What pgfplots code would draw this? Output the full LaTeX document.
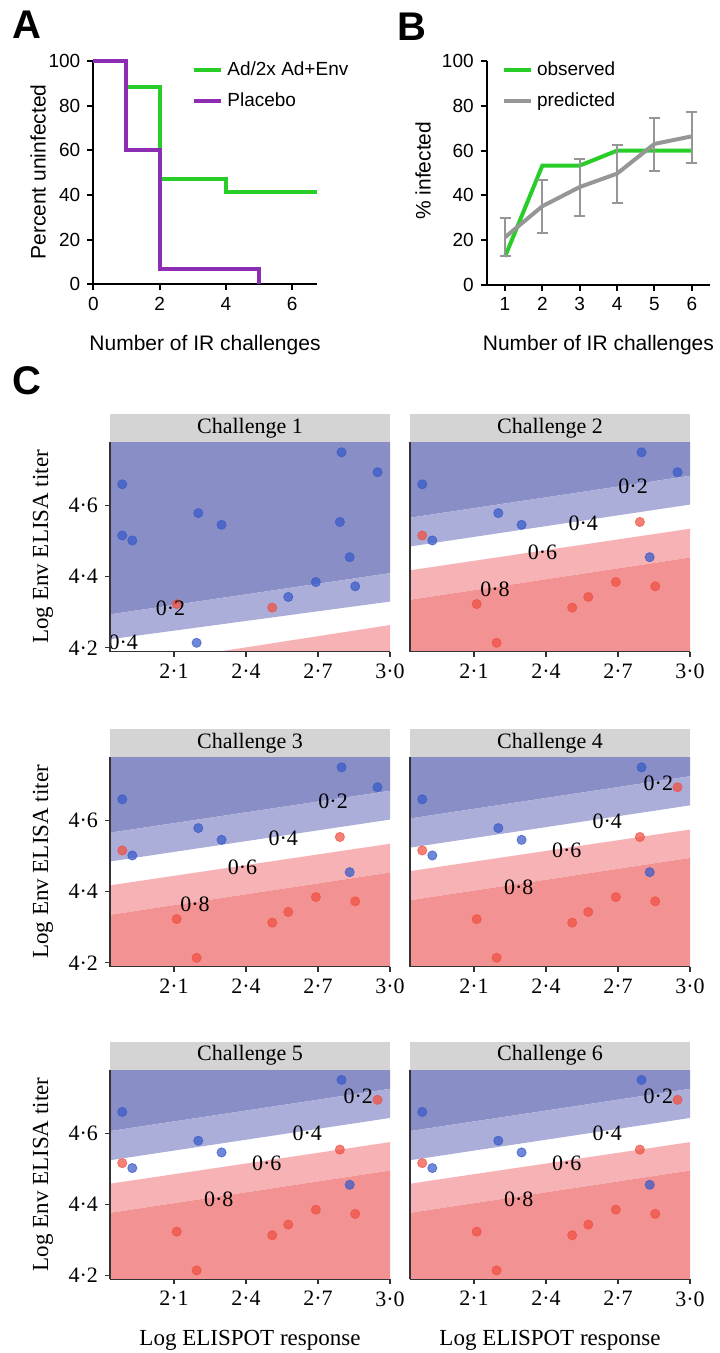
\documentclass[border=0pt]{standalone}
\usepackage{fontspec}
\setmainfont{Liberation Sans}
\newfontfamily\serifC{Liberation Serif}
\usepackage{pgfplots}
\pgfplotsset{compat=1.18}
\usepackage{pgfplotstable}

\definecolor{kmgreen}{RGB}{40,205,40}
\definecolor{kmpurple}{RGB}{140,45,180}
\definecolor{predgray}{RGB}{150,150,150}
\definecolor{bandDB}{RGB}{137,142,198}
\definecolor{bandLB}{RGB}{172,174,218}
\definecolor{bandLR}{RGB}{246,178,181}
\definecolor{bandDR}{RGB}{242,146,147}
\definecolor{stripgray}{RGB}{212,212,212}
\definecolor{dotblue}{RGB}{55,90,200}
\definecolor{dotred}{RGB}{240,80,65}

% points of panel C; g1 = challenge 1, g2 = challenges 2-3, g3 = challenges 4-6
\pgfplotstableread{
x y g1 g2 g3
1.884 4.660 b b b
2.798 4.750 b b b
2.948 4.694 b b r
2.201 4.579 b b b
2.298 4.546 b b b
1.884 4.516 b r r
1.926 4.502 b b b
2.791 4.554 b r r
2.832 4.455 b b b
2.111 4.323 r r r
2.194 4.214 b r r
2.509 4.313 r r r
2.576 4.343 b r r
2.691 4.385 b r r
2.855 4.373 b r r
}\points

% contour bands: boundary values at x=1.833 and x=3.0
\newcommand{\bands}[8]{%
  \addplot[fill=bandDB, draw=none] coordinates {(1.833,#1) (3,#2) (3,5) (1.833,5)};
  \addplot[fill=bandLB, draw=none] coordinates {(1.833,#3) (3,#4) (3,#2) (1.833,#1)};
  \addplot[fill=bandLR, draw=none] coordinates {(1.833,#7) (3,#8) (3,#6) (1.833,#5)};
  \addplot[fill=bandDR, draw=none] coordinates {(1.833,4) (3,4) (3,#8) (1.833,#7)};
}
% facet strip on top of a panel
\newcommand{\strip}[1]{%
  \fill[stripgray] (rel axis cs:0,1) rectangle ([yshift=14pt]rel axis cs:1,1);
  \node[font=\serifC\fontsize{11}{11}\selectfont] at ([yshift=7pt]rel axis cs:0.5,1) {#1};
}
% y title of the left column
\newcommand{\ytitle}{%
  \node[rotate=90, font=\serifC\fontsize{11.5}{11.5}\selectfont]
    at ([xshift=-33.5pt]rel axis cs:0,0.5) {Log Env ELISA titer};
}

\tikzset{lab/.style={font=\serifC\fontsize{11}{11}\selectfont, inner sep=0pt}}

\pgfplotsset{
  abpanel/.style={
    scale only axis, width=111.7pt, height=111.65pt,
    axis x line*=bottom, axis y line*=left,
    axis line style={black, line width=1pt},
    tick style={black, line width=1pt}, tick align=outside,
    major tick length=3pt,
    ticklabel style={font=\fontsize{9.5}{9.5}\selectfont},
    /pgf/number format/assume math mode=true,
    label style={font=\fontsize{10.5}{10.5}\selectfont},
    ymin=0, ymax=100, ytick={0,20,...,100},
    legend cell align=left,
    legend image code/.code={\draw[##1] (0pt,0pt) -- (13.5pt,0pt);},
    clip=false,
  },
  facet/.style={
    scale only axis, width=140pt, height=104.85pt,
    xmin=1.833, xmax=3.0, ymin=4.189, ymax=4.779,
    axis x line*=bottom, axis y line*=left, axis on top,
    clip mode=individual,
    axis line style={black!80, line width=0.6pt},
    tick style={black!80, line width=0.6pt}, tick align=outside,
    major tick length=2.5pt,
    xtick={2.1,2.4,2.7,3.0}, xticklabels={2·1,2·4,2·7,3·0},
    ytick={4.2,4.4,4.6}, yticklabels={4·2,4·4,4·6},
    ticklabel style={font=\serifC\fontsize{11}{11}\selectfont},
    label style={font=\serifC\fontsize{11.5}{11.5}\selectfont},
  },
  rightfacet/.style={ytick=\empty},
  dots/.style={scatter, only marks, scatter src=explicit symbolic,
    scatter/classes={
      b={mark=*, mark size=2.3pt, fill=dotblue, draw=dotblue, opacity=0.72},
      r={mark=*, mark size=2.3pt, fill=dotred, draw=dotred, opacity=0.72}}},
}

\begin{document}
\begin{tikzpicture}
\path[use as bounding box] (0,0) rectangle (359.5pt,-676.5pt);

\node[font=\bfseries\fontsize{20}{20}\selectfont] at (13.5pt,-12.5pt) {A};
\node[font=\bfseries\fontsize{20}{20}\selectfont] at (206pt,-13.5pt) {B};
\node[font=\bfseries\fontsize{20}{20}\selectfont] at (13.5pt,-190.5pt) {C};

% Panel A
\begin{axis}[abpanel, at={(46.65pt,-142.15pt)}, anchor=south west,
  xmin=0, xmax=6.74, xtick={0,2,4,6},
  xlabel={Number of IR challenges}, ylabel={Percent uninfected},
  xlabel style={at={(rel axis cs:0.5,-0.272)}, anchor=center},
  ylabel style={at={(rel axis cs:-0.2475,0.503)}, anchor=center},
  legend style={at={(rel axis cs:0.415,1.035)}, anchor=north west, draw=none, fill=none,
    font=\fontsize{9.5}{9.5}\selectfont, row sep=3pt}]
\addplot[kmgreen, line width=2pt, const plot] coordinates {(0,100) (1,88.2) (2,47.1) (4,41.2) (6.74,41.2)};
\addlegendentry{Ad/2x Ad+Env}
\addplot[kmpurple, line width=2pt, const plot] coordinates {(0,100) (1,60) (2,6.7) (5,6.7) (5,0)};
\addlegendentry{Placebo}
\end{axis}

% Panel B
\begin{axis}[abpanel, at={(243.35pt,-142.3pt)}, anchor=south west,
  xmin=0.51, xmax=6.49, xtick={1,...,6},
  xlabel={Number of IR challenges}, ylabel={\% infected},
  xlabel style={at={(rel axis cs:0.5,-0.272)}, anchor=center},
  ylabel style={at={(rel axis cs:-0.285,0.51)}, anchor=center},
  legend style={at={(rel axis cs:0.04,1.035)}, anchor=north west, draw=none, fill=none,
    font=\fontsize{9.5}{9.5}\selectfont, row sep=3pt}]
\addplot[kmgreen, line width=2pt] coordinates {(1,12.5) (2,53.3) (3,53.3) (4,60) (5,60) (6,60)};
\addlegendentry{observed}
\addplot[predgray, line width=2pt,
  error bars/.cd, y dir=both, y explicit,
  error bar style={line width=1pt, predgray},
  error mark options={rotate=90, mark size=2.75pt, line width=1pt, predgray}]
  coordinates {
  (1,21.2) += (0,8.7) -= (0,8.5)
  (2,35.1) += (0,11.9) -= (0,12.0)
  (3,43.7) += (0,12.7) -= (0,13.1)
  (4,49.7) += (0,12.7) -= (0,13.1)
  (5,63.0) += (0,11.8) -= (0,12.3)
  (6,66.4) += (0,10.9) -= (0,11.8)
  };
\addlegendentry{predicted}
\end{axis}

% Panel C, row 1
\begin{axis}[facet, at={(55pt,-325.85pt)}, anchor=south west]
\bands{4.294}{4.410}{4.224}{4.330}{4.142}{4.264}{4.060}{4.180}
\addplot[dots] table[x=x, y=y, meta=g1] {\points};
\node[lab] at (axis cs:2.085,4.3105) {0·2};
\node[lab] at (axis cs:1.888,4.2165) {0·4};
\strip{Challenge 1}
\ytitle
\end{axis}

\begin{axis}[facet, rightfacet, at={(205pt,-325.85pt)}, anchor=south west]
\bands{4.566}{4.684}{4.485}{4.603}{4.418}{4.535}{4.335}{4.454}
\addplot[dots] table[x=x, y=y, meta=g2] {\points};
\node[lab] at (axis cs:2.763,4.655) {0·2};
\node[lab] at (axis cs:2.555,4.550) {0·4};
\node[lab] at (axis cs:2.385,4.469) {0·6};
\node[lab] at (axis cs:2.187,4.365) {0·8};
\strip{Challenge 2}
\end{axis}

% row 2
\begin{axis}[facet, at={(55pt,-483.35pt)}, anchor=south west]
\bands{4.566}{4.684}{4.485}{4.603}{4.418}{4.535}{4.335}{4.454}
\addplot[dots] table[x=x, y=y, meta=g2] {\points};
\node[lab] at (axis cs:2.763,4.655) {0·2};
\node[lab] at (axis cs:2.555,4.550) {0·4};
\node[lab] at (axis cs:2.385,4.469) {0·6};
\node[lab] at (axis cs:2.187,4.365) {0·8};
\strip{Challenge 3}
\ytitle
\end{axis}

\begin{axis}[facet, rightfacet, at={(205pt,-483.35pt)}, anchor=south west]
\bands{4.606}{4.725}{4.524}{4.643}{4.458}{4.575}{4.376}{4.495}
\addplot[dots] table[x=x, y=y, meta=g3] {\points};
\node[lab] at (axis cs:2.868,4.705) {0·2};
\node[lab] at (axis cs:2.655,4.599) {0·4};
\node[lab] at (axis cs:2.486,4.516) {0·6};
\node[lab] at (axis cs:2.286,4.413) {0·8};
\strip{Challenge 4}
\end{axis}

% row 3
\begin{axis}[facet, at={(55pt,-639.65pt)}, anchor=south west,
  xlabel={Log ELISPOT response},
  xlabel style={at={(rel axis cs:0.5,-0.289)}, anchor=center}]
\bands{4.606}{4.725}{4.524}{4.643}{4.458}{4.575}{4.376}{4.495}
\addplot[dots] table[x=x, y=y, meta=g3] {\points};
\node[lab] at (axis cs:2.868,4.705) {0·2};
\node[lab] at (axis cs:2.655,4.599) {0·4};
\node[lab] at (axis cs:2.486,4.516) {0·6};
\node[lab] at (axis cs:2.286,4.413) {0·8};
\strip{Challenge 5}
\ytitle
\end{axis}

\begin{axis}[facet, rightfacet, at={(205pt,-639.65pt)}, anchor=south west,
  xlabel={Log ELISPOT response},
  xlabel style={at={(rel axis cs:0.5,-0.289)}, anchor=center}]
\bands{4.606}{4.725}{4.524}{4.643}{4.458}{4.575}{4.376}{4.495}
\addplot[dots] table[x=x, y=y, meta=g3] {\points};
\node[lab] at (axis cs:2.868,4.705) {0·2};
\node[lab] at (axis cs:2.655,4.599) {0·4};
\node[lab] at (axis cs:2.486,4.516) {0·6};
\node[lab] at (axis cs:2.286,4.413) {0·8};
\strip{Challenge 6}
\end{axis}
\end{tikzpicture}
\end{document}
